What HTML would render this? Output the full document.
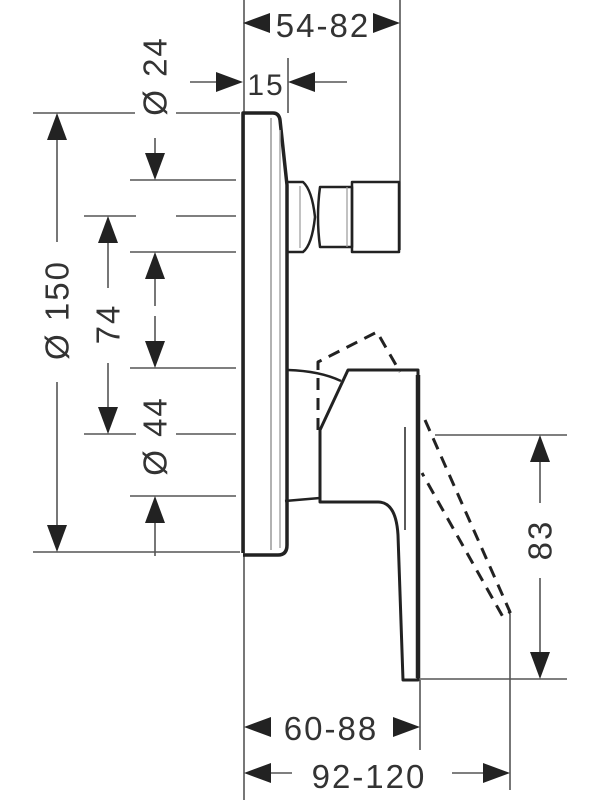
<!DOCTYPE html>
<html><head><meta charset="utf-8"><style>html,body{margin:0;padding:0;background:#fff}svg{display:block}</style></head>
<body>
<svg width="600" height="800" viewBox="0 0 600 800" xmlns="http://www.w3.org/2000/svg">
<g stroke="#555" stroke-width="1.6" fill="none">
<line x1="244" y1="0" x2="244" y2="800"/>
<line x1="400" y1="0" x2="400" y2="250"/>
<line x1="288" y1="58" x2="288" y2="113"/>
<line x1="420" y1="680" x2="420" y2="750"/>
<line x1="510" y1="614" x2="510" y2="790"/>
<line x1="33" y1="113" x2="135" y2="113"/><line x1="176" y1="113" x2="240" y2="113"/>
<line x1="33" y1="552" x2="240" y2="552"/>
<line x1="130" y1="180" x2="236" y2="180"/>
<line x1="84" y1="216" x2="136" y2="216"/><line x1="176" y1="216" x2="236" y2="216"/>
<line x1="130" y1="252" x2="236" y2="252"/>
<line x1="130" y1="368" x2="236" y2="368"/>
<line x1="84" y1="434" x2="136" y2="434"/><line x1="176" y1="434" x2="236" y2="434"/>
<line x1="130" y1="496" x2="236" y2="496"/>
<line x1="435" y1="435" x2="567" y2="435"/>
<line x1="418" y1="679" x2="567" y2="679"/>
<line x1="57" y1="135" x2="57" y2="242"/><line x1="57" y1="382" x2="57" y2="530"/>
<line x1="108" y1="238" x2="108" y2="288"/><line x1="108" y1="363" x2="108" y2="410"/>
<line x1="155" y1="138" x2="155" y2="156"/>
<line x1="155" y1="272" x2="155" y2="306"/><line x1="155" y1="316" x2="155" y2="346"/>
<line x1="155" y1="518" x2="155" y2="556"/>
<line x1="540" y1="460" x2="540" y2="503"/><line x1="540" y1="578" x2="540" y2="655"/>
<line x1="190" y1="82" x2="218" y2="82"/><line x1="314" y1="82" x2="347" y2="82"/>
<line x1="268" y1="773" x2="292" y2="773"/><line x1="452" y1="773" x2="486" y2="773"/>
</g>
<g fill="#222">
<polygon points="57,113 47,140 67,140"/>
<polygon points="57,552 47,525 67,525"/>
<polygon points="108,216 98,243 118,243"/>
<polygon points="108,434 98,407 118,407"/>
<polygon points="155,180 145,153 165,153"/>
<polygon points="155,252 145,279 165,279"/>
<polygon points="155,368 145,341 165,341"/>
<polygon points="155,496 145,523 165,523"/>
<polygon points="540,435 530,462 550,462"/>
<polygon points="540,679 530,652 550,652"/>
<polygon points="243,23 270,13 270,33"/>
<polygon points="400,23 373,13 373,33"/>
<polygon points="243,82 216,72 216,92"/>
<polygon points="288,82 315,72 315,92"/>
<polygon points="244,727 271,717 271,737"/>
<polygon points="420,727 393,717 393,737"/>
<polygon points="244,773 271,763 271,783"/>
<polygon points="510,773 483,763 483,783"/>
</g>
<g font-family="'Liberation Sans', sans-serif" font-size="33" fill="#333" text-anchor="middle" letter-spacing="2">
<text x="323" y="37">54-82</text>
<text x="266" y="95" font-size="30">15</text>
<text x="331" y="740">60-88</text>
<text x="369" y="788">92-120</text>
<text transform="translate(155,76) rotate(-90)" dominant-baseline="central">Ø 24</text>
<text transform="translate(57,310) rotate(-90)" dominant-baseline="central">Ø 150</text>
<text transform="translate(108,324) rotate(-90)" dominant-baseline="central">74</text>
<text transform="translate(155,436) rotate(-90)" dominant-baseline="central">Ø 44</text>
<text transform="translate(540,540) rotate(-90)" dominant-baseline="central">83</text>
</g>
<g fill="none" stroke="#222" stroke-linejoin="round">
<path d="M243,553 L243,113 L273,113 Q279,113 280,120 L287,185 L287,545 Q287,555 278,555 L243,555" stroke-width="3.5"/>
<line x1="271" y1="118" x2="271" y2="550" stroke="#999" stroke-width="1.5"/>
<line x1="280" y1="130" x2="280" y2="548" stroke="#aaa" stroke-width="1.5"/>
<path d="M288,182 L303,182 Q312,190 315,217 Q312,245 303,252 L288,252" stroke-width="2.5"/>
<line x1="300" y1="186" x2="300" y2="248" stroke="#999" stroke-width="1.2"/>
<path d="M320,187 L352,187 L352,247 L320,247 Q316,217 320,187 Z" stroke-width="2.5"/>
<line x1="347" y1="187" x2="347" y2="247" stroke="#999" stroke-width="1.2"/>
<path d="M352,182 L399,182 L399,252 L352,252 Z" stroke-width="2.5"/>
<path d="M288,370 Q320,371 341,381" stroke-width="2.5"/>
<path d="M285,501 L320,498" stroke-width="2.5"/>
<path d="M348,370 L418,370 L418,680 L403,680 L398,535 Q396,502 378,502 L320,502 L320,430 L348,370 Z" stroke-width="3"/>
<line x1="418" y1="375" x2="418" y2="678" stroke-width="4.5"/>
<line x1="405" y1="427" x2="405" y2="530" stroke-width="1.5"/>
<g stroke-dasharray="12,8" stroke-width="3">
<path d="M318,430 L318,362 L377,332 L400,372"/>
<path d="M425,420 L510,612 L503,617 L422,473"/>
</g>
</g>
</svg>
</body></html>
